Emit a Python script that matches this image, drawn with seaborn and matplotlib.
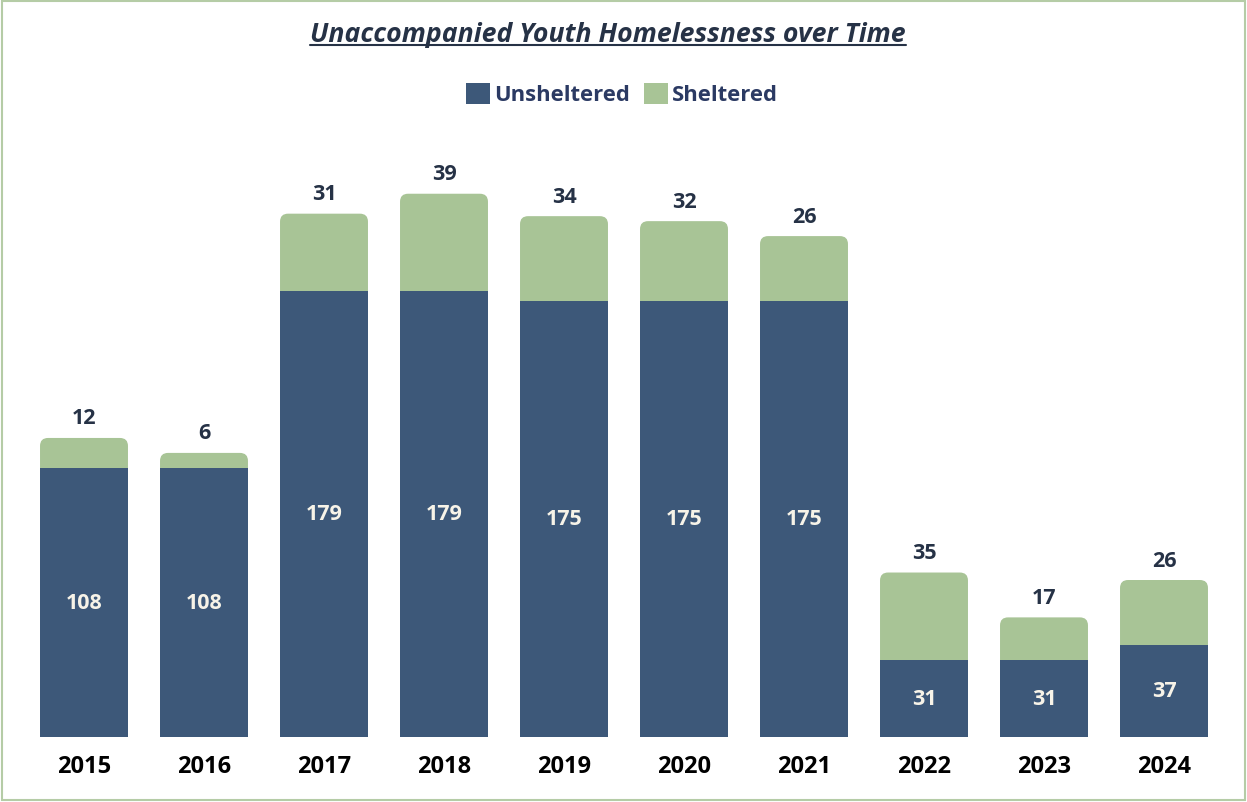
import numpy as np
import pandas as pd
import matplotlib
matplotlib.use("Agg")
import matplotlib.pyplot as plt
import seaborn as sns
from matplotlib.patches import FancyBboxPatch, Patch, Rectangle
from matplotlib.lines import Line2D

# Datos
years = ["2015", "2016", "2017", "2018", "2019", "2020", "2021", "2022", "2023", "2024"]
unsheltered = [108, 108, 179, 179, 175, 175, 175, 31, 31, 37]
sheltered = [12, 6, 31, 39, 34, 32, 26, 35, 17, 26]

BLUE = "#3d5879"
GREEN = "#a8c496"
DARK = "#263246"

sns.set_style("white")
plt.rcParams['font.family'] = ['Open Sans', 'DejaVu Sans']

df = pd.DataFrame({"year": years, "unsheltered": unsheltered, "sheltered": sheltered})
df["total"] = df["unsheltered"] + df["sheltered"]

fig = plt.figure(figsize=(12.47, 8.03), dpi=100)
ax = fig.add_axes([12 / 1247, 65 / 803, 1224 / 1247, 628 / 803])

# Barras apiladas: total en verde, no albergados encima en azul
sns.barplot(data=df, x="year", y="total", color=GREEN, width=0.733,
            saturation=1, ax=ax, zorder=2)
green_patches = list(ax.patches)
sns.barplot(data=df, x="year", y="unsheltered", color=BLUE, width=0.733,
            saturation=1, ax=ax, zorder=3)
blue_patches = ax.patches[len(green_patches):]

ax.set_xlim(-0.6, 9.6)
ax.set_ylim(0, 252)

# Esquinas superiores redondeadas
rx = 0.067
ry = 3.2
for p in green_patches:
    x, w, h = p.get_x(), p.get_width(), p.get_height()
    p.set_visible(False)
    fb = FancyBboxPatch((x, 0), w, h, boxstyle=f"round,pad=0,rounding_size={rx}",
                        mutation_aspect=ry / rx, facecolor=GREEN, edgecolor="none",
                        zorder=2)
    ax.add_patch(fb)

for p in blue_patches:
    p.set_edgecolor("none")

# Etiquetas de valores
for i, (u, s) in enumerate(zip(unsheltered, sheltered)):
    ax.text(i, u / 2, str(u), ha="center", va="center", color="#f7f3e8",
            fontsize=15.5, fontweight="bold", zorder=4)
    ax.text(i, u + s + 3.8, str(s), ha="center", va="bottom", color=DARK,
            fontsize=15.5, fontweight="bold", zorder=4)

ax.set_xlabel("")
ax.set_ylabel("")
ax.set_yticks([])
ax.tick_params(axis="x", length=0, pad=12, labelsize=17, labelcolor="black")
for lab in ax.get_xticklabels():
    lab.set_fontweight("bold")
for side in ax.spines.values():
    side.set_visible(False)
ax.set_facecolor("none")

# Titulo subrayado
title = fig.text(608 / 1247, 1 - 35 / 803, "Unaccompanied Youth Homelessness over Time",
                 ha="center", va="center", fontsize=19.2, fontweight="bold",
                 fontstyle="italic", color=DARK)

# Leyenda
handles = [Patch(facecolor=BLUE, edgecolor="none", label="Unsheltered"),
           Patch(facecolor=GREEN, edgecolor="none", label="Sheltered")]
leg = fig.legend(handles=handles, loc="center", bbox_to_anchor=(622 / 1247, 1 - 95 / 803),
                 ncol=2, frameon=False, fontsize=15.8, handlelength=1.1, handleheight=1.1,
                 handletextpad=0.2, columnspacing=0.6)
for t in leg.get_texts():
    t.set_color("#2b3a63")
    t.set_fontweight("bold")

fig.canvas.draw()
bb = title.get_window_extent()
x0, x1 = bb.x0 / 1247, bb.x1 / 1247
yl = 1 - 46 / 803
fig.add_artist(Line2D([x0, x1], [yl, yl], color=DARK, lw=1.5, transform=fig.transFigure))

# Marco
fig.add_artist(Rectangle((2 / 1247, 2 / 803), 1 - 4 / 1247, 1 - 4 / 803,
                         transform=fig.transFigure, fill=False,
                         edgecolor="#b5cca6", lw=1.5))

fig.savefig("out.png", dpi=100)
